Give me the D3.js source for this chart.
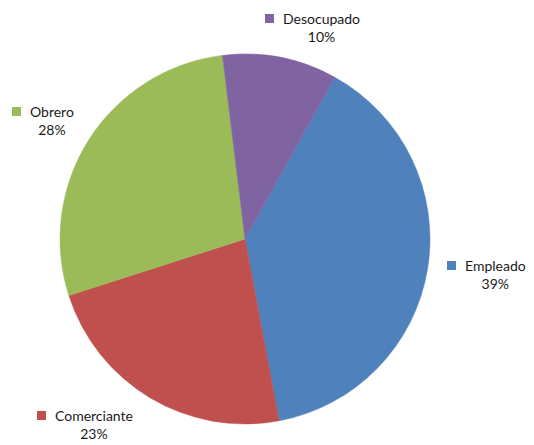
<!DOCTYPE html>
<html>
<head>
<meta charset="utf-8">
<script src="https://cdn.jsdelivr.net/npm/d3@7"></script>
<style>
  html, body { margin: 0; padding: 0; background: #fff; }
  svg { display: block; }
  text { font-family: Lato, "Open Sans", sans-serif; fill: #1a1a1a; }
</style>
</head>
<body>
<svg id="chart" width="534" height="445"></svg>
<script>
// Occupation shares (percent)
const categories = ["Empleado", "Comerciante", "Obrero", "Desocupado"];
const values = [39, 23, 28, 10];
const colors = ["#4F81BD", "#C0504D", "#9BBB59", "#8064A2"];

// Label anchor points (square's left edge, name baseline)
const labelPos = [
  { x: 447, y: 271 },
  { x: 37, y: 421 },
  { x: 12, y: 117 },
  { x: 265, y: 24 }
];

const width = 534, height = 445;
const cx = 245, cy = 239, radius = 185;
const startDeg = 29;

const svg = d3.select("#chart");
const total = d3.sum(values);
const data = categories.map((c, i) => ({ name: c, value: values[i], color: colors[i], pos: labelPos[i] }));

const pie = d3.pie()
  .value(d => d.value)
  .sort(null)
  .startAngle(startDeg * Math.PI / 180)
  .endAngle(startDeg * Math.PI / 180 + 2 * Math.PI);

const arc = d3.arc().innerRadius(0).outerRadius(radius);

const g = svg.append("g").attr("transform", `translate(${cx},${cy})`);
g.selectAll("path")
  .data(pie(data))
  .join("path")
  .attr("d", arc)
  .attr("fill", d => d.data.color)
  .attr("stroke", d => d.data.color)
  .attr("stroke-width", 0.5);

// Data labels: legend key + category name, percentage centred under the name
const labels = svg.selectAll("g.label")
  .data(data)
  .join("g")
  .attr("class", "label")
  .attr("transform", d => `translate(${d.pos.x},${d.pos.y})`);

labels.append("rect")
  .attr("x", 0).attr("y", -10)
  .attr("width", 9).attr("height", 9)
  .attr("fill", d => d.color);

labels.each(function(d) {
  const el = d3.select(this);
  const name = el.append("text")
    .attr("x", 18).attr("y", 0)
    .attr("font-size", 14)
    .text(d.name);
  const w = name.node().getComputedTextLength();
  el.append("text")
    .attr("x", 18 + w / 2).attr("y", 18)
    .attr("text-anchor", "middle")
    .attr("font-size", 14)
    .text(d3.format(".0%")(d.value / total));
});
</script>
</body>
</html>
